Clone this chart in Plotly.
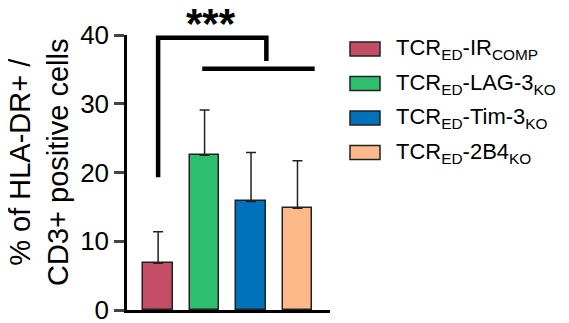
import plotly.graph_objects as go

groups = ["TCR<sub>ED</sub>-IR<sub>COMP</sub>", "TCR<sub>ED</sub>-LAG-3<sub>KO</sub>",
          "TCR<sub>ED</sub>-Tim-3<sub>KO</sub>", "TCR<sub>ED</sub>-2B4<sub>KO</sub>"]
means = [6.8, 22.5, 15.8, 14.8]
sd = [4.6, 6.6, 7.1, 6.9]
colors = ["#C44E65", "#2DBE6E", "#0072BC", "#FDB98A"]
yticks = [0, 10, 20, 30, 40]
ytitle = "% of HLA-DR+ /<br>CD3+ positive cells"

# page body adds an 8px margin, so work in window pixels and shift
OFF = 8
W, H = 569 - OFF, 323 - OFF
# plot area in window pixels: x 127..330, y 35..310
L, R, T, B = 127 - OFF, W - (330 - OFF), 35 - OFF, H - (310 - OFF)


def px(x):
    return (x - OFF - L) / (W - L - R)


def py(y):
    return (H - B - (y - OFF)) / (H - T - B)


fig = go.Figure()
fig.add_trace(go.Bar(
    x=list(range(len(means))), y=means, width=0.64,
    marker={"color": colors, "line": {"color": "#222222", "width": 1.5}},
    error_y={"type": "data", "array": sd, "arrayminus": [0] * len(sd), "symmetric": False,
             "color": "#222222", "thickness": 1.5, "width": 5},
    showlegend=False,
))

# significance brackets
bk = {"color": "black", "width": 4.5}
fig.add_shape(type="path", path="M 0,19.3 L 0,39.6 L 2.33,39.6 L 2.33,36.2",
              line=bk, xref="x", yref="y")
fig.add_shape(type="line", x0=0.95, x1=3.37, y0=35.1, y1=35.1, line=bk, xref="x", yref="y")
fig.add_annotation(x=1.14, y=py(24), xref="x", yref="paper", text="<b>***</b>", showarrow=False,
                   font={"size": 42, "color": "black"}, yanchor="middle")

# y title as rotated annotation (sits a bit above the axis middle)
fig.add_annotation(xref="paper", yref="paper", x=px(39), y=py(163), text=ytitle, textangle=-90,
                   showarrow=False, xanchor="center", yanchor="middle",
                   font={"size": 29, "color": "black"})

# legend
for i, (g, c) in enumerate(zip(groups, colors)):
    yc = 49 + i * 34.5
    fig.add_shape(type="rect", xref="paper", yref="paper", x0=px(350), x1=px(380),
                  y0=py(yc - 7), y1=py(yc + 7), fillcolor=c, line={"color": "#222222", "width": 1.5})
    fig.add_annotation(xref="paper", yref="paper", x=px(394), y=py(yc), text=g, showarrow=False,
                       xanchor="left", yanchor="middle", font={"size": 22, "color": "black"})

fig.update_layout(
    width=W, height=H,
    margin={"l": L, "r": R, "t": T, "b": B},
    plot_bgcolor="white", paper_bgcolor="white",
    font={"family": "Liberation Sans, Arial", "color": "black"},
    bargap=0,
    xaxis={"range": [-0.67, 3.7], "showline": True, "linecolor": "black", "linewidth": 2.5,
           "showticklabels": False, "ticks": "", "showgrid": False, "zeroline": False,
           "automargin": False},
    yaxis={"range": [0, 40], "tickvals": yticks, "showline": True, "linecolor": "black",
           "linewidth": 2.5, "ticks": "outside", "ticklen": 10, "tickwidth": 2.5,
           "tickfont": {"size": 26}, "ticklabeloverflow": "allow", "showgrid": False,
           "zeroline": False, "automargin": False},
)

fig.write_html("out.html")
